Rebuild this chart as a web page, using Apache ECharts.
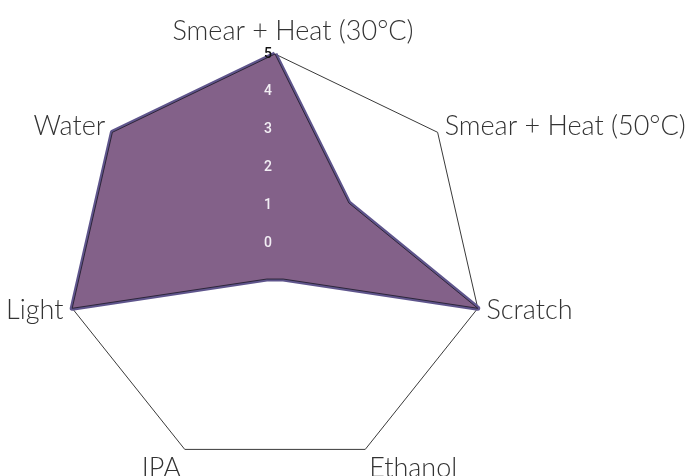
<!DOCTYPE html>
<html>
<head>
<meta charset="utf-8">
<title>Radar</title>
<script src="https://cdn.jsdelivr.net/npm/echarts@6/dist/echarts.min.js"></script>
<style>
    html, body { margin: 0; padding: 0; background: #fff; }
    #chart { width: 697px; height: 476px; }
</style>
</head>
<body>
<div id="chart"></div>
<script>
// indicator names; echarts lays them out counter-clockwise from the top
var indicators = ['Smear + Heat (30°C)', 'Water', 'Light', 'IPA', 'Ethanol', 'Scratch', 'Smear + Heat (50°C)']
var scores = [5, 5, 5, 0, 0, 5, 2]
var scaleMin = -0.5
var scaleMax = 5
var tickMax = 5

var myChart = echarts.init(document.getElementById('chart'))

var center = [275, 262]
var outerR = 208
// where the value 0 sits, so the scale labels line up with the radar
var zeroR = outerR * (0 - scaleMin) / (scaleMax - scaleMin)

var nameFont = {
    fontFamily: 'Lato',
    fontWeight: 300,
    fontSize: 27,
    color: '#333'
}

var option = {
    backgroundColor: '#fff',
    radar: {
        center: center,
        radius: outerR,
        startAngle: 90,
        shape: 'polygon',
        splitNumber: 1,
        indicator: indicators.map(function (n) {
            return { name: n, min: scaleMin, max: scaleMax }
        }),
        axisName: {
            color: '#333',
            fontFamily: 'Lato',
            fontWeight: 300,
            fontSize: 27,
            formatter: function (name) {
                // top title sits a bit right of its vertex, bottom ones a bit lower
                if (name === indicators[0]) return '{top|' + name + '}'
                if (name === 'IPA' || name === 'Ethanol') return '{low|' + name + '}'
                return name
            },
            rich: {
                top: Object.assign({ padding: [0, 0, 0, 36] }, nameFont),
                low: Object.assign({ padding: [22, 0, 0, 0] }, nameFont)
            }
        },
        nameGap: 9,
        axisLine: { show: false },
        axisTick: { show: false },
        axisLabel: { show: false },
        splitArea: { show: false },
        splitLine: {
            lineStyle: { color: '#3a3a3a', width: 1 }
        }
    },
    // scale labels only on the top axis
    polar: {
        center: center,
        radius: [zeroR, outerR]
    },
    angleAxis: {
        startAngle: 90,
        show: false
    },
    radiusAxis: {
        type: 'value',
        min: 0,
        max: tickMax,
        interval: 1,
        z: 10,
        axisLine: { show: false },
        axisTick: { show: false },
        splitLine: { show: false },
        axisLabel: {
            margin: 3,
            fontFamily: 'Roboto',
            fontWeight: 500,
            fontSize: 14,
            color: function (val) {
                return +val === tickMax ? '#111' : '#f2eef4'
            }
        }
    },
    series: [
        {
            type: 'radar',
            symbol: 'none',
            z: 2,
            lineStyle: { color: '#5f558c', width: 5 },
            areaStyle: { color: '#836189', opacity: 1 },
            data: [{ value: scores }]
        },
        {
            type: 'radar',
            symbol: 'none',
            z: 3,
            lineStyle: { color: '#1c1826', width: 0.8 },
            data: [{ value: scores }]
        }
    ]
}
myChart.setOption(option)
window.addEventListener('resize', function () {
    if (myChart) {
        myChart.resize()
    }
})
</script>
</body>
</html>
